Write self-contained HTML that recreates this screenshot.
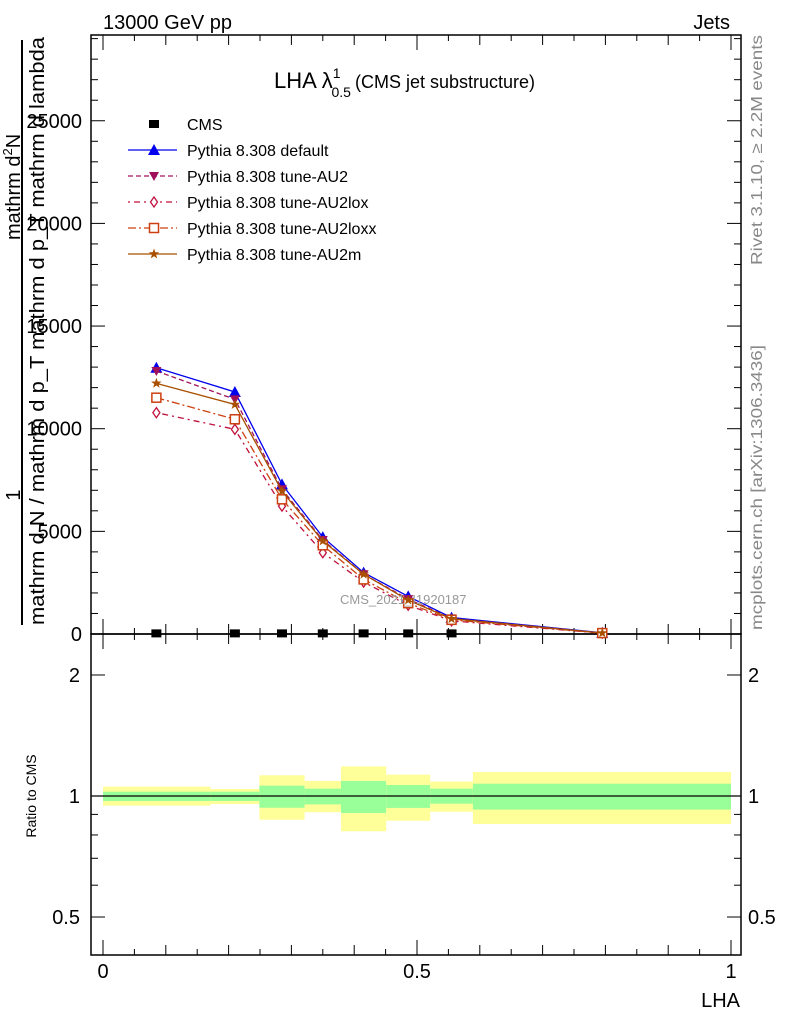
<!DOCTYPE html>
<html><head><meta charset="utf-8"><style>
html,body{margin:0;padding:0;background:#fff}
svg{display:block;font-family:"Liberation Sans",sans-serif}
</style></head><body>
<svg id="c" width="786" height="1024" viewBox="0 0 786 1024">
<g id="bands"></g>
<g id="ax"></g>
<g id="series"></g>
<text x="103" y="29" font-size="20">13000 GeV pp</text>
<text x="730" y="29" font-size="20" text-anchor="end">Jets</text>
<text x="274" y="88" font-size="22">LHA λ<tspan font-size="14" dy="-10">1</tspan><tspan font-size="14" dx="-9" dy="19">0.5</tspan><tspan font-size="18" dy="-9" dx="4">(CMS jet substructure)</tspan></text>
<text x="340" y="604" font-size="13" fill="#999">CMS_2021_I1920187</text>
<text transform="translate(762,265) rotate(-90)" font-size="16" fill="#888" textLength="230" lengthAdjust="spacingAndGlyphs">Rivet 3.1.10, ≥ 2.2M events</text>
<text transform="translate(762,630) rotate(-90)" font-size="16" fill="#888" textLength="285" lengthAdjust="spacingAndGlyphs">mcplots.cern.ch [arXiv:1306.3436]</text>
<line x1="22" y1="40" x2="22" y2="625" stroke="#000" stroke-width="2"/>
<text transform="translate(20,495) rotate(-90)" font-size="20" text-anchor="middle">1</text>
<text transform="translate(20,240) rotate(-90)" font-size="20">mathrm d<tspan font-size="13" dy="-8">2</tspan><tspan dy="8">N</tspan></text>
<text transform="translate(44,625) rotate(-90)" font-size="20" textLength="588" lengthAdjust="spacingAndGlyphs">mathrm d N / mathrm d p_T mathrm d p_T mathrm d lambda</text>
<text transform="translate(36,796) rotate(-90)" font-size="14" text-anchor="middle">Ratio to CMS</text>
<text x="740" y="1007" font-size="20" text-anchor="end">LHA</text>
<g id="legend"></g>
</svg>
<script>
const edges=[0,0.171,0.249,0.321,0.379,0.451,0.521,0.589,1.0];
const xs=[0.085,0.21,0.285,0.35,0.415,0.486,0.555,0.795];
const cms=[30,30,30,30,30,30,30,30];
const mcDefault=[12970,11790,7290,4720,2990,1830,800,60];
const mcAU2=[12810,11430,7050,4580,2910,1700,760,50];
const mcAU2lox=[10780,9970,6230,3960,2530,1400,640,40];
const mcAU2loxx=[11510,10460,6560,4320,2660,1500,690,45];
const mcAU2m=[12210,11180,6960,4530,2910,1650,740,50];
const statUp=[1.025,1.025,1.061,1.043,1.090,1.065,1.043,1.073];
const statDn=[0.972,0.972,0.935,0.953,0.907,0.934,0.957,0.925];
const totUp=[1.055,1.041,1.126,1.090,1.185,1.130,1.086,1.147];
const totDn=[0.946,0.955,0.873,0.911,0.817,0.868,0.914,0.852];
const yTicks=[0,5000,10000,15000,20000,25000];
const yTickLabels=["0","5000","10000","15000","20000","25000"];
const rTicks=[0.5,1,2];
const rTickLabels=["0.5","1","2"];
const xTicks=[0,0.5,1];
const xTickLabels=["0","0.5","1"];

const NS="http://www.w3.org/2000/svg";
const L=91,R=741,T=35,MB=634,RB=955;
const X=v=>103+v*628;
const Y=v=>634-v*0.02053;
const RY=v=>796-Math.log10(v)*402;
function mk(tag,parent,attrs){const e=document.createElementNS(NS,tag);for(const k in attrs)e.setAttribute(k,attrs[k]);parent.appendChild(e);return e;}
const bands=document.getElementById('bands'),ax=document.getElementById('ax'),ser=document.getElementById('series'),leg=document.getElementById('legend');

for(let i=0;i<edges.length-1;i++){
  const y=mk('rect',bands,{x:X(edges[i]),y:RY(totUp[i]),width:X(edges[i+1])-X(edges[i]),height:RY(totDn[i])-RY(totUp[i]),fill:'#ffff99'});
  
  
  const g=mk('rect',bands,{x:X(edges[i]),y:RY(statUp[i]),width:X(edges[i+1])-X(edges[i]),height:RY(statDn[i])-RY(statUp[i]),fill:'#99ff99'});
  
  
}
const one=mk('line',ax,{x1:L,x2:R,y1:RY(1),y2:RY(1),stroke:'#000','stroke-width':1.2});


const f1=mk('rect',ax,{x:L,y:T,width:R-L,height:MB-T,fill:'none',stroke:'#000','stroke-width':1.5});


const f2=mk('rect',ax,{x:L,y:MB,width:R-L,height:RB-MB,fill:'none',stroke:'#000','stroke-width':1.5});


for(let v=0;v<=29000;v+=1000){const y=Y(v);const len=v%5000===0?14:7;
  mk('line',ax,{x1:L,x2:L+len,y1:y,y2:y,stroke:'#000'});mk('line',ax,{x1:R,x2:R-len,y1:y,y2:y,stroke:'#000'});}
yTicks.forEach((v,i)=>{const t=mk('text',ax,{x:82,y:Y(v)+7,'font-size':20,'text-anchor':'end'});t.textContent=yTickLabels[i];
  
  });
[0.5,0.6,0.7,0.8,0.9,1,2].forEach(v=>{const y=RY(v);const len=(v===0.5||v===1||v===2)?14:7;
  mk('line',ax,{x1:L,x2:L+len,y1:y,y2:y,stroke:'#000'});mk('line',ax,{x1:R,x2:R-len,y1:y,y2:y,stroke:'#000'});});
rTicks.forEach((v,i)=>{
  const t=mk('text',ax,{x:80,y:RY(v)+7,'font-size':20,'text-anchor':'end'});t.textContent=rTickLabels[i];
  
  
  const t2=mk('text',ax,{x:748,y:RY(v)+7,'font-size':20});t2.textContent=rTickLabels[i];
  
  });
for(let k=0;k<=20;k++){const v=k*0.05,x=X(v);const len=k%10===0?15:(k%2===0?10:6);
  [MB,RB].forEach(b=>mk('line',ax,{x1:x,x2:x,y1:b,y2:b-len,stroke:'#000'}));
  mk('line',ax,{x1:x,x2:x,y1:T,y2:T+len,stroke:'#000'});mk('line',ax,{x1:x,x2:x,y1:MB,y2:MB+len,stroke:'#000'});}
xTicks.forEach((v,i)=>{const t=mk('text',ax,{x:X(v),y:978,'font-size':20,'text-anchor':'middle'});t.textContent=xTickLabels[i];
  
  });

function marker(p,type,x,y,c){
  if(type==='sq')return mk('rect',p,{x:x-5,y:y-4,width:10,height:8,fill:'#000'});
  if(type==='up')return mk('polygon',p,{points:`${x},${y-6} ${x-6},${y+5} ${x+6},${y+5}`,fill:c});
  if(type==='dn')return mk('polygon',p,{points:`${x},${y+5} ${x-5},${y-4} ${x+5},${y-4}`,fill:c});
  if(type==='dia')return mk('polygon',p,{points:`${x},${y-5} ${x-3.5},${y} ${x},${y+5} ${x+3.5},${y}`,fill:'#fff',stroke:c,'stroke-width':1.3});
  if(type==='osq')return mk('rect',p,{x:x-4.5,y:y-4.5,width:9,height:9,fill:'#fff',stroke:c,'stroke-width':1.5});
  if(type==='star'){let pts=[];for(let k=0;k<10;k++){const r=k%2?2.2:5.5,a=-Math.PI/2+k*Math.PI/5;pts.push((x+r*Math.cos(a)).toFixed(1)+','+(y+r*Math.sin(a)).toFixed(1));}
    return mk('polygon',p,{points:pts.join(' '),fill:c});}
}
const series=[
 {name:'CMS',vals:cms,c:'#000',m:'sq',dash:null},
 {name:'Pythia 8.308 default',vals:mcDefault,c:'#0000ee',m:'up',dash:''},
 {name:'Pythia 8.308 tune-AU2',vals:mcAU2,c:'#a0105a',m:'dn',dash:'5,3'},
 {name:'Pythia 8.308 tune-AU2lox',vals:mcAU2lox,c:'#c0103c',m:'dia',dash:'2,4,6,4'},
 {name:'Pythia 8.308 tune-AU2loxx',vals:mcAU2loxx,c:'#cc4010',m:'osq',dash:'8,3,2,3'},
 {name:'Pythia 8.308 tune-AU2m',vals:mcAU2m,c:'#a85000',m:'star',dash:''}
];
const slugs=['cms','default','au2','au2lox','au2loxx','au2m'];
series.forEach((s,si)=>{
  const g=mk('g',ser,{});
  
  
  if(s.dash!==null){
    const pl=mk('polyline',g,{points:xs.map((x,i)=>X(x)+','+Y(s.vals[i])).join(' '),fill:'none',stroke:s.c,'stroke-width':1.3});
    if(s.dash)pl.setAttribute('stroke-dasharray',s.dash);
    
    
  }
  xs.forEach((x,i)=>{const m=marker(g,s.m,X(x),Y(s.vals[i]),s.c);
    
    });
  const ly=124+si*26;
  const lg=mk('g',leg,{});
  
  
  if(s.dash!==null){const ln=mk('line',lg,{x1:128,x2:177,y1:ly,y2:ly,stroke:s.c,'stroke-width':1.3});if(s.dash)ln.setAttribute('stroke-dasharray',s.dash);}
  marker(lg,s.m,154,ly,s.c);
  const t=mk('text',lg,{x:187,y:ly+6,'font-size':16});t.textContent=s.name;
});
</script>
</body></html>
